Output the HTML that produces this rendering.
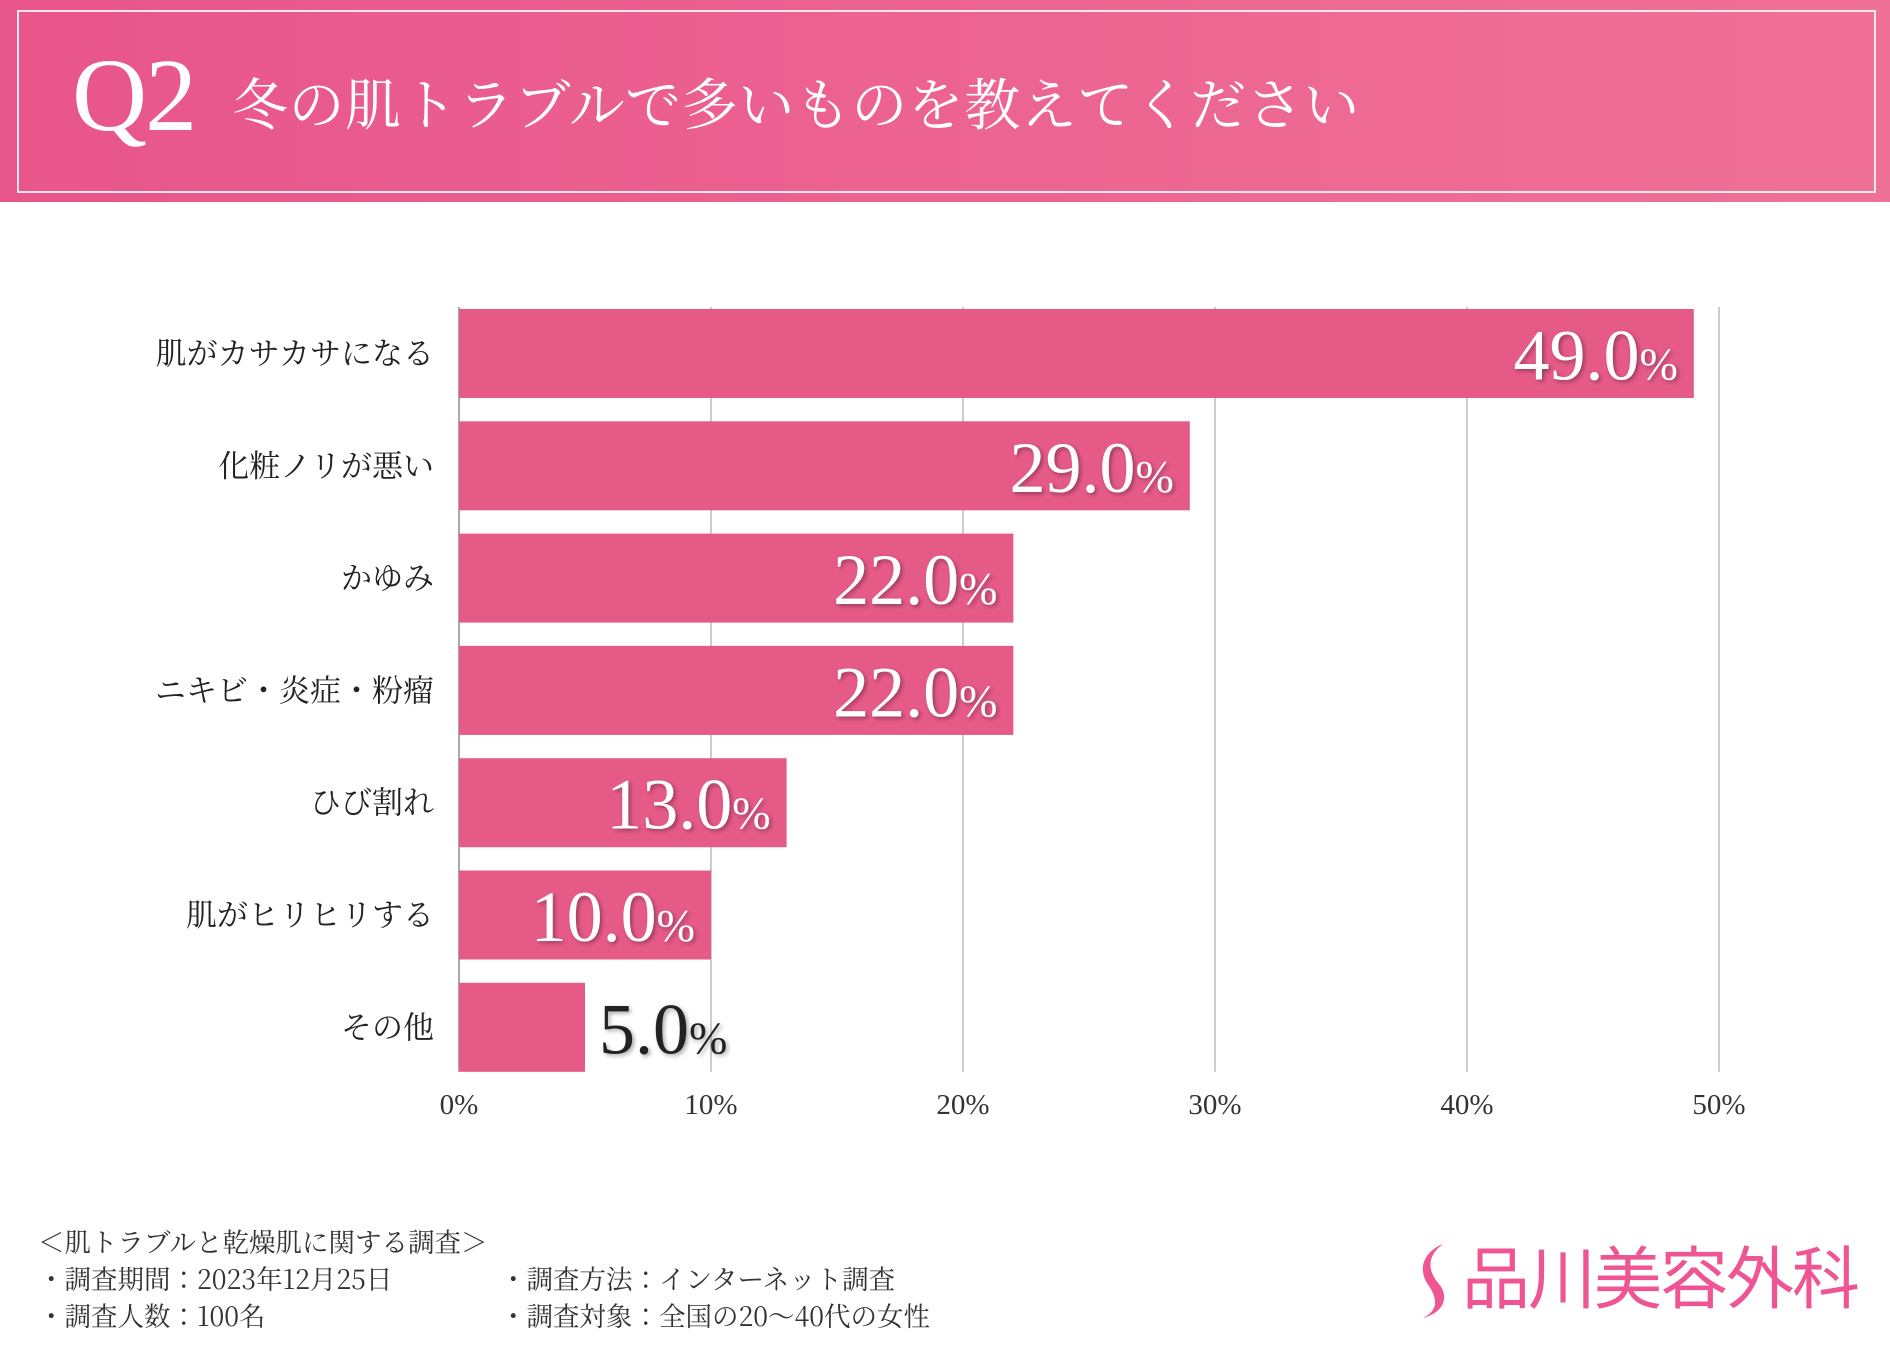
<!DOCTYPE html>
<html><head><meta charset="utf-8">
<style>
body{margin:0;width:1890px;height:1350px;background:#fff;position:relative;overflow:hidden;font-family:"Liberation Serif","Noto Serif CJK JP",serif;}
#hdr{position:absolute;left:0;top:0;width:1890px;height:202px;background:linear-gradient(90deg,#e8558a,#f07198);}
#hdr-border{position:absolute;left:17px;top:10px;width:1855px;height:179px;border:2px solid rgba(255,255,255,0.85);}
#q2{position:absolute;left:72px;top:44px;font-size:104px;color:#fff;line-height:1;letter-spacing:-2px;}
#title{position:absolute;left:232px;top:74px;font-size:56px;color:#fff;line-height:1;font-family:"Noto Serif CJK JP",serif;letter-spacing:0.5px;}
.ft{position:absolute;font-size:26.5px;color:#333;font-family:"Noto Serif CJK JP",serif;line-height:1;white-space:nowrap;}
#logo{position:absolute;left:1462px;top:1240px;font-size:68px;color:#ee5592;font-family:"Noto Sans CJK JP",sans-serif;line-height:1;letter-spacing:-2px;}
</style></head><body>
<div id="hdr"><div id="hdr-border"></div>
<div id="q2">Q2</div>
<div id="title">冬の肌トラブルで多いものを教えてください</div></div>
<svg id="chart" width="1890" height="1350" style="position:absolute;left:0;top:0">
<defs><filter id="sh" x="-20%" y="-20%" width="140%" height="140%"><feDropShadow dx="2" dy="2" stdDeviation="2" flood-color="#000" flood-opacity="0.35"/></filter></defs>
<g id="grid"></g><g id="bars"></g><g id="labels"></g><g id="ticks"></g>
</svg>
<div class="ft" style="left:38px;top:1228px">＜肌トラブルと乾燥肌に関する調査＞</div>
<div class="ft" style="left:38px;top:1265px">・調査期間：2023年12月25日</div>
<div class="ft" style="left:38px;top:1302px">・調査人数：100名</div>
<div class="ft" style="left:500px;top:1265px">・調査方法：インターネット調査</div>
<div class="ft" style="left:500px;top:1302px">・調査対象：全国の20～40代の女性</div>
<svg style="position:absolute;left:1415px;top:1242px" width="40" height="80"><path d="M28 2 C8 10 2 28 14 44 C22 56 24 68 8 76 C30 70 34 54 24 42 C12 28 12 14 28 2Z" fill="#ee5592"/></svg>
<div id="logo">品川美容外科</div>
<script>
const categories=["肌がカサカサになる","化粧ノリが悪い","かゆみ","ニキビ・炎症・粉瘤","ひび割れ","肌がヒリヒリする","その他"];
const values=[49.0,29.0,22.0,22.0,13.0,10.0,5.0];
const ticks=[0,10,20,30,40,50];
const NS="http://www.w3.org/2000/svg";
const x0=459,xPer=25.2,top0=309,pitch=112.3,bh=89;
const X=v=>x0+v*xPer;const Y=i=>top0+i*pitch;
function mk(t,a,p){const e=document.createElementNS(NS,t);for(const k in a)e.setAttribute(k,a[k]);p.appendChild(e);return e;}
const g=document.getElementById('grid'),b=document.getElementById('bars'),l=document.getElementById('labels'),tk=document.getElementById('ticks');
ticks.forEach(t=>{const ln=mk('line',{x1:X(t),x2:X(t),y1:top0-2,y2:Y(categories.length-1)+bh,stroke:t===0?'#aaa':'#ccc','stroke-width':2},g);


const tx=mk('text',{x:X(t),y:1114,'text-anchor':'middle','font-size':29,fill:'#333'},tk);tx.textContent=t+'%';

});
categories.forEach((c,i)=>{const r=mk('rect',{x:X(0),y:Y(i),width:X(values[i])-X(0),height:bh,fill:'#e65a88'},b);


const ct=mk('text',{x:434,y:Y(i)+bh/2+11,'text-anchor':'end','font-size':31,fill:'#222','font-family':'Noto Serif CJK JP, serif'},l);ct.textContent=c;


const inside=values[i]>=8;
const vt=mk('text',{x:inside?X(values[i])-16:X(values[i])+14,y:Y(i)+bh/2+26,'text-anchor':inside?'end':'start','font-size':72,fill:inside?'#fff':'#222',filter:'url(#sh)'},l);


const n=mk('tspan',{},vt);n.textContent=values[i].toFixed(1);
const p=mk('tspan',{'font-size':46},vt);p.textContent='%';});
</script>
</body></html>
